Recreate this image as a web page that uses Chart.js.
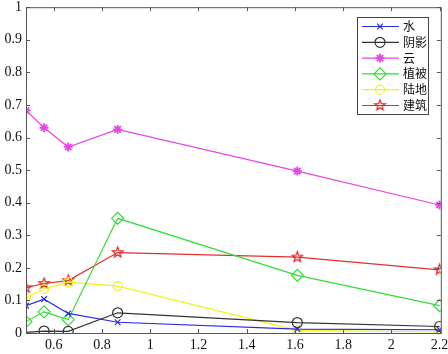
<!DOCTYPE html>
<html>
<head>
<meta charset="utf-8">
<script src="https://cdn.jsdelivr.net/npm/chart.js@4.4.1/dist/chart.umd.min.js"></script>
<style>
  html, body { margin: 0; padding: 0; background: #fff; }
  #wrap { width: 448px; height: 354px; }
</style>
</head>
<body>
<div id="wrap"><canvas id="chart" width="448" height="354"></canvas></div>
<script>
// wavelengths (µm) and reflectance per class
const xValues = [0.485, 0.56, 0.66, 0.865, 1.61, 2.2];
const water      = [0.084, 0.104, 0.060, 0.033, 0.012, 0.010];
const shadow     = [0.002, 0.006, 0.005, 0.062, 0.032, 0.020];
const cloud      = [0.683, 0.630, 0.571, 0.625, 0.497, 0.393];
const vegetation = [0.035, 0.065, 0.041, 0.352, 0.177, 0.084];
const land       = [0.108, 0.135, 0.156, 0.144, 0.008, 0.003];
const building   = [0.139, 0.152, 0.161, 0.247, 0.233, 0.194];
const labels = ['水', '阴影', '云', '植被', '陆地', '建筑'];
const xTicks = [0.6, 0.8, 1, 1.2, 1.4, 1.6, 1.8, 2, 2.2];

const toPts = arr => arr.map((v, i) => ({ x: xValues[i], y: v }));

// pentagram marker for 建筑
function pentagram(color, r) {
  const c = document.createElement('canvas');
  const s = Math.ceil(r * 2 + 4);
  c.width = s; c.height = s;
  const g = c.getContext('2d');
  g.strokeStyle = color;
  g.lineWidth = 1.2;
  g.beginPath();
  for (let k = 0; k < 10; k++) {
    const rad = k % 2 === 0 ? r : r * 0.42;
    const a = -Math.PI / 2 + k * Math.PI / 5;
    const px = s / 2 + rad * Math.cos(a), py = s / 2 + rad * Math.sin(a);
    if (k === 0) g.moveTo(px, py); else g.lineTo(px, py);
  }
  g.closePath();
  g.stroke();
  return c;
}
const starImg = pentagram('#e02020', 5.5);

const none = 'rgba(0,0,0,0)';
const datasets = [
  { label: labels[0], data: toPts(water), borderColor: '#2a2ae6', pointStyle: 'crossRot', pointRadius: 4 },
  { label: labels[1], data: toPts(shadow), borderColor: '#333333', pointStyle: 'circle', pointRadius: [0, 5, 5, 5, 5, 5] },
  { label: labels[2], data: toPts(cloud), borderColor: '#e646e6', pointStyle: 'star', pointRadius: 4.5, pointBorderWidth: 1.8 },
  { label: labels[3], data: toPts(vegetation), borderColor: '#33dd33', pointStyle: 'rectRot', pointRadius: 6 },
  { label: labels[4], data: toPts(land), borderColor: '#f2f21a', pointStyle: 'circle', pointRadius: 4.5 },
  { label: labels[5], data: toPts(building), borderColor: '#e03030', pointStyle: starImg, pointRadius: 5 }
].map(d => Object.assign({
  borderWidth: 1.2,
  pointBackgroundColor: none,
  pointBorderColor: d.borderColor,
  pointBorderWidth: d.pointBorderWidth || 1.2,
  tension: 0,
  fill: false
}, d));

// box + inward ticks, matlab style
const boxPlugin = {
  id: 'box',
  afterDraw(chart) {
    const { ctx, chartArea: a, scales } = chart;
    ctx.save();
    ctx.strokeStyle = '#555';
    ctx.lineWidth = 1;
    ctx.strokeRect(a.left + 0.5, a.top + 0.5, a.right - a.left, a.bottom - a.top);
    ctx.beginPath();
    xTicks.forEach(t => {
      const x = Math.round(scales.x.getPixelForValue(t)) + 0.5;
      ctx.moveTo(x, a.bottom); ctx.lineTo(x, a.bottom - 4);
      ctx.moveTo(x, a.top); ctx.lineTo(x, a.top + 4);
    });
    scales.y.ticks.forEach(t => {
      const y = Math.round(scales.y.getPixelForValue(t.value)) + 0.5;
      ctx.moveTo(a.left, y); ctx.lineTo(a.left + 4, y);
      ctx.moveTo(a.right, y); ctx.lineTo(a.right - 4, y);
    });
    ctx.stroke();
    ctx.restore();
  }
};

const legendPlugin = {
  id: 'matlabLegend',
  afterDraw(chart) {
    const ctx = chart.ctx;
    const bx = 357, by = 17, bw = 71, bh = 97;
    ctx.save();
    ctx.fillStyle = '#fff';
    ctx.fillRect(bx, by, bw, bh);
    ctx.strokeStyle = '#444';
    ctx.lineWidth = 1;
    ctx.strokeRect(bx + 0.5, by + 0.5, bw, bh);
    chart.data.datasets.forEach((ds, i) => {
      const y = by + 9.5 + i * 15.8;
      ctx.strokeStyle = ds.borderColor;
      ctx.lineWidth = 1.2;
      ctx.beginPath();
      ctx.moveTo(362, y); ctx.lineTo(399, y);
      ctx.stroke();
      const r = Array.isArray(ds.pointRadius) ? ds.pointRadius[1] : ds.pointRadius;
      ctx.fillStyle = none;
      ctx.strokeStyle = ds.borderColor;
      ctx.lineWidth = ds.pointBorderWidth;
      Chart.helpers.drawPoint(ctx, {
        pointStyle: ds.pointStyle, radius: r, rotation: 0, borderWidth: ds.pointBorderWidth
      }, 380, y);
      ctx.fillStyle = '#111';
      ctx.font = '12px "Noto Sans CJK SC"';
      ctx.textBaseline = 'middle';
      ctx.fillText(ds.label, 403, y);
    });
    ctx.restore();
  }
};

const tickFont = { family: '"Liberation Serif", "Times New Roman", serif', size: 14 };

new Chart(document.getElementById('chart'), {
  type: 'line',
  data: { datasets },
  options: {
    responsive: false,
    animation: false,
    layout: { padding: { top: 7, right: 7, left: 0, bottom: 0 } },
    plugins: { legend: { display: false }, tooltip: { enabled: false } },
    scales: {
      x: {
        type: 'linear',
        min: 0.485,
        max: 2.205,
        afterBuildTicks: s => { s.ticks = xTicks.map(v => ({ value: v })); },
        afterFit: s => { s.height = 21; s.paddingLeft = 0; s.paddingRight = 0; },
        grid: { display: false, drawTicks: false },
        border: { display: false },
        ticks: { font: tickFont, color: '#111', padding: 4, maxRotation: 0, autoSkip: false,
                 callback: v => String(Math.round(v * 10) / 10) }
      },
      y: {
        min: 0,
        max: 1,
        afterFit: s => { s.width = 26; s.paddingTop = 0; s.paddingBottom = 0; },
        grid: { display: false, drawTicks: false },
        border: { display: false },
        ticks: { stepSize: 0.1, font: tickFont, color: '#111', padding: 4,
                 callback: v => String(Math.round(v * 10) / 10) }
      }
    }
  },
  plugins: [boxPlugin, legendPlugin]
});
</script>
</body>
</html>
